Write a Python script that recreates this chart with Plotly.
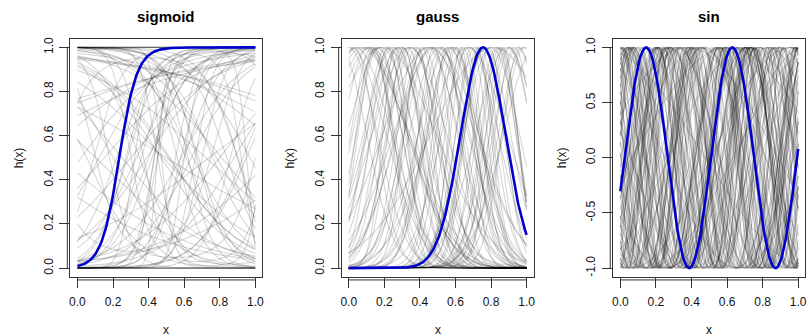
import numpy as np
import plotly.graph_objects as go

# ---------------- data (parameters) ----------------
panel_titles = ["sigmoid", "gauss", "sin"]
x_ticks = [0.0, 0.2, 0.4, 0.6, 0.8, 1.0]
x_tick_labels = ["0.0", "0.2", "0.4", "0.6", "0.8", "1.0"]
y_ticks_unit = [0.0, 0.2, 0.4, 0.6, 0.8, 1.0]
y_tick_labels_unit = ["0.0", "0.2", "0.4", "0.6", "0.8", "1.0"]
y_ticks_sin = [-1.0, -0.5, 0.0, 0.5, 1.0]
y_tick_labels_sin = ["-1.0", "-0.5", "0.0", "0.5", "1.0"]

# sigmoid basis: centre and signed slope
sig_center = [0.12, 0.35, 0.58, 0.81, -0.2, 1.2, 0.45, 0.67, 0.05, 0.93,
              0.28, 0.52, 0.74, -0.4, 1.4, 0.18, 0.39, 0.61, 0.86, 0.02,
              0.97, 0.22, 0.48, 0.70, -0.1, 1.1, 0.33, 0.56, 0.78, 0.09,
              0.90, 0.25, 0.43, 0.64, 0.84, -0.6, 1.6, 0.15, 0.37, 0.60,
              0.76, 0.50, 0.30, 0.68, 0.88, -0.3, 1.3, 0.20, 0.55, 0.72,
              0.40, 0.62, 0.80, 0.10, 0.95, 0.27, 0.47, 0.66, -0.8, 1.8,
              2.0, -1.2, 1.9, -1.5, 2.4, -1.0, 2.2, -1.8, 1.7, -1.3,
              0.42, 0.58, 0.36, 0.65, 0.51]
sig_slope = [6, -9, 14, -4, 3, -3, 18, -12, -7, 8,
             11, -5, 2.5, 2, -2.2, -16, 5, -8, 13, 4.5,
             -6, 9, -3.5, 15, -2.8, 3.2, 7, -13, -5.5, 12,
             -10, -4, 20, 6.5, -9.5, 1.8, -1.9, 3.8, -17, 10,
             -7.5, -2, 4, -11, 5.5, -2.5, 2.7, -6, 16, -3,
             8.5, -14, 4.2, -3.2, 7.5, 12.5, -5, 19, 1.5, -1.6,
             9, 8, -10, -9, 7, 11, -8, 6, 12, -7,
             9.5, 6.0, 11.5, -6.5, -4.8]
# a few curved (non-monotone) sigmoid units: middle, half width, steepness
arch_mid = [0.78, 0.62, 0.85, 0.70, 0.55, 0.90, 0.68, 0.75, 0.40, 0.30]
arch_half = [0.35, 0.30, 0.40, 0.25, 0.45, 0.30, 0.38, 0.28, 0.50, 0.45]
arch_steep = [4.0, 3.5, -4.0, 5.0, -3.0, 3.5, -3.5, -4.5, 3.0, -2.5]

# gaussian basis: centre and width
gauss_center = [0.03, 0.31, 0.58, 0.12, 0.87, 0.44, 0.71, 0.19, 0.96, 0.36,
                0.63, 0.08, 0.52, 0.79, 0.25, 0.91, 0.47, 0.15, 0.68, 0.39,
                0.83, 0.06, 0.57, 0.29, 0.74, 0.98, 0.21, 0.49, 0.66, 0.11,
                0.93, 0.34, 0.61, 0.17, 0.81, 0.42, 0.00, 0.55, 0.27, 0.76,
                0.89, 0.14, 0.45, 0.69, 0.33, 0.59, 0.04, 0.85, 0.23, 0.51,
                0.72, 0.38, 0.95, 0.10, 0.64, 0.30, 0.80, 0.48, 0.18, 0.90,
                -0.05, 1.05, 0.53, 0.26, 0.77, 0.41, 0.67, 0.13, 0.86, 0.35,
                0.60, 0.01, 0.99, 0.22, 0.46, 0.73, 0.28, 0.56, 0.84, 0.16]
gauss_sigma = [0.12, 0.09, 0.15, 0.22, 0.08, 0.18, 0.11, 0.30, 0.10, 0.14,
               0.07, 0.25, 0.13, 0.09, 0.17, 0.12, 0.20, 0.10, 0.16, 0.08,
               0.11, 0.28, 0.13, 0.19, 0.10, 0.14, 0.12, 0.24, 0.09, 0.15,
               0.11, 0.21, 0.10, 0.13, 0.35, 0.12, 0.16, 0.08, 0.14, 0.11,
               0.18, 0.10, 0.26, 0.09, 0.12, 0.15, 0.20, 0.10, 0.13, 0.17,
               0.08, 0.11, 0.14, 0.23, 0.10, 0.12, 0.16, 0.09, 0.19, 0.13,
               0.15, 0.18, 0.11, 0.07, 0.14, 0.10, 0.22, 0.12, 0.09, 0.16,
               0.11, 0.20, 0.13, 0.10, 0.15, 0.08, 0.12, 0.17, 0.10, 0.14]

# sine basis: angular frequency and phase
sin_freq = [3.1, 7.4, 12.2, 18.5, 5.6, 9.9, 15.3, 21.0, 4.2, 11.1,
            16.8, 6.7, 13.9, 19.7, 8.3, 2.6, 10.5, 14.6, 22.3, 7.0,
            12.8, 17.4, 5.1, 9.2, 20.4, 3.8, 13.3, 16.1, 6.2, 11.7,
            18.9, 8.8, 15.0, 4.7, 10.1, 21.6, 7.9, 14.1, 17.9, 2.9,
            12.5, 6.0, 19.2, 9.6, 15.7, 3.5, 11.4, 20.8, 8.0, 13.6,
            5.3, 16.4, 10.8, 18.2, 4.0, 14.9, 7.2, 12.0, 22.0, 9.0,
            17.1, 6.5, 13.1, 19.9, 3.3, 10.3, 15.9, 8.5, 11.9, 21.3,
            5.9, 14.4, 18.6, 7.6, 12.9, 4.5, 16.6, 9.4, 20.1, 6.9,
            10.7, 16.2, 4.8, 13.4, 19.4, 8.1, 11.3, 17.7, 6.3, 14.8,
            21.8, 9.8, 3.6, 12.6, 18.1, 7.3, 15.5, 5.0, 10.0, 20.6]
sin_phase = [0.4, 2.1, 5.3, 1.2, 3.8, 0.9, 4.6, 2.7, 6.0, 1.6,
             3.1, 5.7, 0.2, 2.4, 4.1, 1.9, 5.0, 3.4, 0.7, 2.9,
             4.8, 1.0, 3.6, 5.9, 0.1, 2.2, 4.4, 1.4, 3.0, 5.5,
             0.6, 2.6, 4.9, 1.7, 3.3, 5.2, 0.3, 2.0, 4.0, 6.1,
             1.1, 3.9, 5.6, 0.8, 2.5, 4.5, 1.5, 3.2, 5.1, 0.5,
             2.8, 4.3, 6.2, 1.3, 3.7, 5.4, 0.0, 2.3, 4.7, 1.8,
             3.5, 5.8, 0.9, 2.6, 4.2, 1.1, 3.0, 5.0, 0.4, 2.0,
             4.6, 1.6, 3.3, 5.7, 0.7, 2.9, 4.4, 1.2, 3.8, 6.0,
             5.1, 0.3, 2.5, 4.0, 1.4, 5.6, 3.1, 0.8, 4.9, 2.2,
             3.7, 1.0, 5.3, 2.8, 0.5, 4.3, 1.9, 3.4, 5.9, 0.2]

# highlighted (blue) functions
blue_sig_center, blue_sig_slope = 0.235, 20.0
blue_gauss_center, blue_gauss_sigma = 0.755, 0.126
blue_sin_freq, blue_sin_phase = 12.955, -0.308

# ---------------- figure ----------------
xs = np.linspace(0.0, 1.0, 201)


def logistic(z):
    return 1.0 / (1.0 + np.exp(-z))


GRAY = "rgba(0,0,0,0.16)"
BLUE = "#0000CD"
FONT = "Liberation Sans, Arial, Helvetica, sans-serif"

W, H = 810, 336
box_left_px = [69.6, 341.9, 614.5]
box_w_px = 192.8
box_top_px, box_bot_px = 36.8, 276.6

fig = go.Figure()

axis_names = [("x", "y"), ("x2", "y2"), ("x3", "y3")]


def add_gray(k, y):
    xa, ya = axis_names[k]
    fig.add_trace(go.Scatter(x=xs, y=y, mode="lines", xaxis=xa, yaxis=ya,
                             line=dict(color=GRAY, width=1.1), hoverinfo="skip",
                             showlegend=False))


def add_blue(k, y):
    xa, ya = axis_names[k]
    fig.add_trace(go.Scatter(x=xs, y=y, mode="lines", xaxis=xa, yaxis=ya,
                             line=dict(color=BLUE, width=2.6), hoverinfo="skip",
                             showlegend=False))


for c, s in zip(sig_center, sig_slope):
    add_gray(0, logistic(s * (xs - c)))
for m, hw, st in zip(arch_mid, arch_half, arch_steep):
    add_gray(0, logistic(st * (1.0 - ((xs - m) / hw) ** 2)))
add_blue(0, logistic(blue_sig_slope * (xs - blue_sig_center)))

for c, s in zip(gauss_center, gauss_sigma):
    add_gray(1, np.exp(-((xs - c) ** 2) / (2 * s * s)))
add_blue(1, np.exp(-((xs - blue_gauss_center) ** 2) / (2 * blue_gauss_sigma ** 2)))

for f, p in zip(sin_freq, sin_phase):
    add_gray(2, np.sin(f * xs + p))
add_blue(2, np.sin(blue_sin_freq * xs + blue_sin_phase))

y_dom = [1 - box_bot_px / H, 1 - box_top_px / H]
layout = dict(width=W, height=H, margin=dict(l=0, r=0, t=0, b=0),
              paper_bgcolor="white", plot_bgcolor="white",
              font=dict(family=FONT, size=12, color="#000000"),
              showlegend=False)

annotations = []
shapes = []
for k in range(3):
    xa, ya = axis_names[k]
    xkey = "xaxis" if k == 0 else f"xaxis{k+1}"
    ykey = "yaxis" if k == 0 else f"yaxis{k+1}"
    xd = [box_left_px[k] / W, (box_left_px[k] + box_w_px) / W]
    if k == 2:
        yt, ytl, yr = y_ticks_sin, y_tick_labels_sin, [-1.08, 1.08]
    else:
        yt, ytl, yr = y_ticks_unit, y_tick_labels_unit, [-0.04, 1.04]
    layout[xkey] = dict(domain=xd, anchor=ya, range=[-0.04, 1.04],
                        showgrid=False, zeroline=False,
                        showline=True, mirror=True, linecolor="#333333", linewidth=1,
                        ticks="outside", ticklen=10, tickwidth=1, tickcolor="#333333",
                        tickvals=x_ticks, ticktext=x_tick_labels,
                        ticklabelstandoff=4,
                        tickfont=dict(family=FONT, size=12, color="#111111"))
    layout[ykey] = dict(domain=y_dom, anchor=xa, range=yr,
                        showgrid=False, zeroline=False,
                        showline=True, mirror=True, linecolor="#333333", linewidth=1,
                        ticks="outside", ticklen=10, tickwidth=1, tickcolor="#333333",
                        tickvals=yt, ticktext=ytl, tickangle=-90,
                        ticklabelstandoff=2,
                        tickfont=dict(family=FONT, size=12, color="#111111"))
    # R-style axis lines (from first to last tick), slightly off the box
    shapes.append(dict(type="line", xref=xa, yref=f"{ya} domain",
                       x0=x_ticks[0], x1=x_ticks[-1],
                       y0=-3.0 / (box_bot_px - box_top_px), y1=-3.0 / (box_bot_px - box_top_px),
                       line=dict(color="#333333", width=1)))
    shapes.append(dict(type="line", xref=f"{xa} domain", yref=ya,
                       x0=-3.0 / box_w_px, x1=-3.0 / box_w_px,
                       y0=yt[0], y1=yt[-1],
                       line=dict(color="#333333", width=1)))
    cx = (box_left_px[k] + box_w_px / 2) / W
    annotations.append(dict(text=f"<b>{panel_titles[k]}</b>", x=cx, y=1 - 15 / H,
                            xref="paper", yref="paper", showarrow=False,
                            xanchor="center", yanchor="middle",
                            font=dict(family=FONT, size=15, color="#000000")))
    annotations.append(dict(text="x", x=cx, y=1 - 330 / H,
                            xref="paper", yref="paper", showarrow=False,
                            xanchor="center", yanchor="middle",
                            font=dict(family=FONT, size=12, color="#111111")))
    annotations.append(dict(text="h(x)", x=(box_left_px[k] - 52) / W,
                            y=1 - (box_top_px + box_bot_px) / 2 / H,
                            xref="paper", yref="paper", showarrow=False,
                            textangle=-90, xanchor="center", yanchor="middle",
                            font=dict(family=FONT, size=12, color="#111111")))

layout["annotations"] = annotations
layout["shapes"] = shapes
fig.update_layout(**layout)
fig.write_html("out.html")
